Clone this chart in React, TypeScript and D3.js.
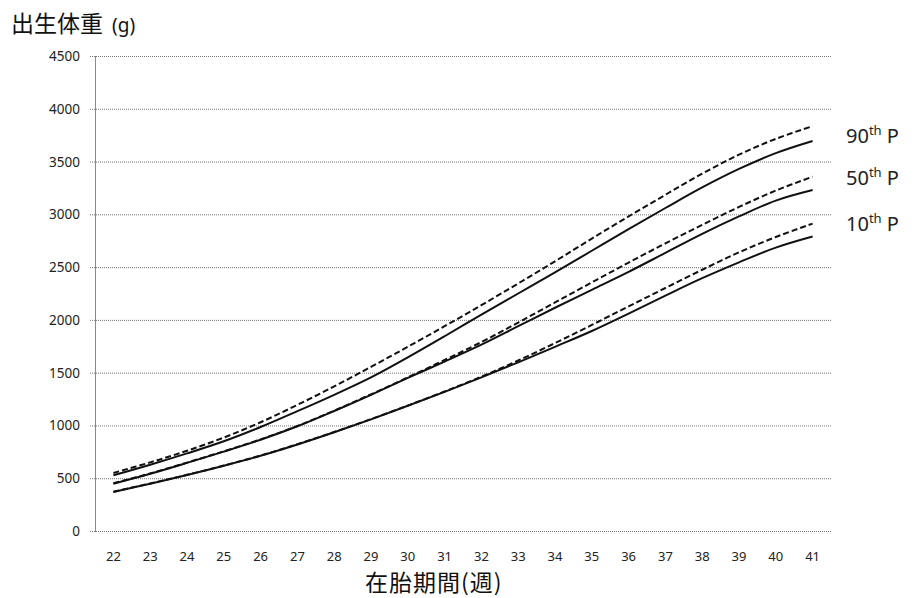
import React, { useRef, useEffect } from "react";
import * as d3 from "d3";

// Gestational weeks (x categories)
const weeks = [22, 23, 24, 25, 26, 27, 28, 29, 30, 31, 32, 33, 34, 35, 36, 37, 38, 39, 40, 41];
const yTicks = [0, 500, 1000, 1500, 2000, 2500, 3000, 3500, 4000, 4500];

// Birth weight (g)
const p90Dashed = [550, 650, 760, 885, 1030, 1195, 1370, 1555, 1745, 1940, 2140, 2345, 2555, 2770, 2980, 3185, 3385, 3565, 3715, 3835];
const p90Solid = [528, 628, 735, 850, 985, 1135, 1290, 1455, 1645, 1845, 2050, 2250, 2450, 2655, 2860, 3060, 3255, 3430, 3580, 3695];
const p50Dashed = [452, 545, 648, 755, 868, 995, 1140, 1295, 1455, 1620, 1790, 1975, 2165, 2355, 2543, 2725, 2900, 3070, 3225, 3357];
const p50Solid = [448, 542, 645, 752, 865, 992, 1137, 1290, 1450, 1605, 1765, 1940, 2115, 2285, 2455, 2635, 2815, 2980, 3130, 3230];
const p10Dashed = [372, 450, 532, 620, 715, 822, 938, 1060, 1188, 1322, 1462, 1615, 1780, 1952, 2128, 2302, 2475, 2640, 2785, 2912];
const p10Solid = [370, 448, 530, 618, 713, 820, 936, 1058, 1186, 1318, 1456, 1598, 1745, 1895, 2060, 2230, 2395, 2545, 2685, 2790];

const series = [
  { values: p90Dashed, dashed: true },
  { values: p90Solid, dashed: false },
  { values: p50Dashed, dashed: true },
  { values: p50Solid, dashed: false },
  { values: p10Dashed, dashed: true },
  { values: p10Solid, dashed: false },
];

const legendLabels = [
  { num: "90", y: 3740 },
  { num: "50", y: 3340 },
  { num: "10", y: 2910 },
];

const App: React.FC = () => {
  const svgRef = useRef<SVGSVGElement | null>(null);
  const width = 917;
  const height = 598;

  useEffect(() => {
    document.body.style.margin = "0";
    if (!svgRef.current) return;
    const root = d3.select(svgRef.current);
    root.selectAll("*").remove();

    const left = 95;
    const right = 831;
    const top = 56;
    const bottom = 531;

    const xScale = d3
      .scalePoint<number>()
      .domain(weeks)
      .range([left, right])
      .padding(0.5);
    const yScale = d3.scaleLinear().domain([0, 4500]).range([bottom, top]);

    const font = "'Noto Sans', 'Open Sans', sans-serif";
    const cjk = "'Noto Sans CJK JP', sans-serif";

    // Grid lines
    root
      .append("g")
      .selectAll("line")
      .data(yTicks)
      .enter()
      .append("line")
      .attr("x1", left - 5)
      .attr("x2", right)
      .attr("y1", (d) => yScale(d) + 0.5)
      .attr("y2", (d) => yScale(d) + 0.5)
      .attr("stroke", "#777")
      .attr("stroke-width", 1)
      .attr("stroke-dasharray", "1,1");

    // Y axis line
    root
      .append("line")
      .attr("x1", left + 0.5)
      .attr("x2", left + 0.5)
      .attr("y1", top)
      .attr("y2", bottom + 1)
      .attr("stroke", "#888")
      .attr("stroke-width", 1);

    // Y tick labels
    root
      .append("g")
      .selectAll("text")
      .data(yTicks)
      .enter()
      .append("text")
      .attr("x", 80)
      .attr("y", (d) => yScale(d) + 5)
      .attr("text-anchor", "end")
      .attr("font-family", font)
      .attr("font-size", 13.5)
      .attr("fill", "#222")
      .text((d) => String(d));

    // X tick labels
    root
      .append("g")
      .selectAll("text")
      .data(weeks)
      .enter()
      .append("text")
      .attr("x", (d) => xScale(d)!)
      .attr("y", 561)
      .attr("text-anchor", "middle")
      .attr("font-family", font)
      .attr("font-size", 13)
      .attr("fill", "#222")
      .text((d) => String(d));

    // Lines
    const line = d3
      .line<number>()
      .x((_d, i) => xScale(weeks[i])!)
      .y((d) => yScale(d))
      .curve(d3.curveCatmullRom.alpha(0.5));

    root
      .append("g")
      .selectAll("path")
      .data(series)
      .enter()
      .append("path")
      .attr("d", (s) => line(s.values))
      .attr("fill", "none")
      .attr("stroke", "#111")
      .attr("stroke-width", 2)
      .attr("stroke-dasharray", (s) => (s.dashed ? "6,3" : null));

    // Legend labels at the right
    const lg = root
      .append("g")
      .selectAll("text")
      .data(legendLabels)
      .enter()
      .append("text")
      .attr("x", 846)
      .attr("y", (d) => yScale(d.y) + 7)
      .attr("font-family", font)
      .attr("font-size", 20)
      .attr("fill", "#222");
    lg.append("tspan").text((d) => d.num);
    lg.append("tspan")
      .attr("font-size", 13)
      .attr("dy", -8)
      .text("th");
    lg.append("tspan")
      .attr("dy", 8)
      .text(" P");

    // Axis titles
    root
      .append("text")
      .attr("x", 11)
      .attr("y", 32)
      .attr("font-family", cjk)
      .attr("font-size", 23)
      .attr("fill", "#111")
      .text("出生体重");
    root
      .append("text")
      .attr("x", 112)
      .attr("y", 32)
      .attr("font-family", font)
      .attr("font-size", 19)
      .attr("fill", "#111")
      .text("(g)");

    root
      .append("text")
      .attr("x", 365)
      .attr("y", 591)
      .attr("font-family", cjk)
      .attr("font-size", 23)
      .attr("letter-spacing", 1)
      .attr("fill", "#111")
      .text("在胎期間(週)");

    return () => {
      root.selectAll("*").remove();
    };
  }, []);

  return (
    <svg
      ref={svgRef}
      width={width}
      height={height}
      style={{ display: "block", background: "#fff" }}
    />
  );
};

export default App;
